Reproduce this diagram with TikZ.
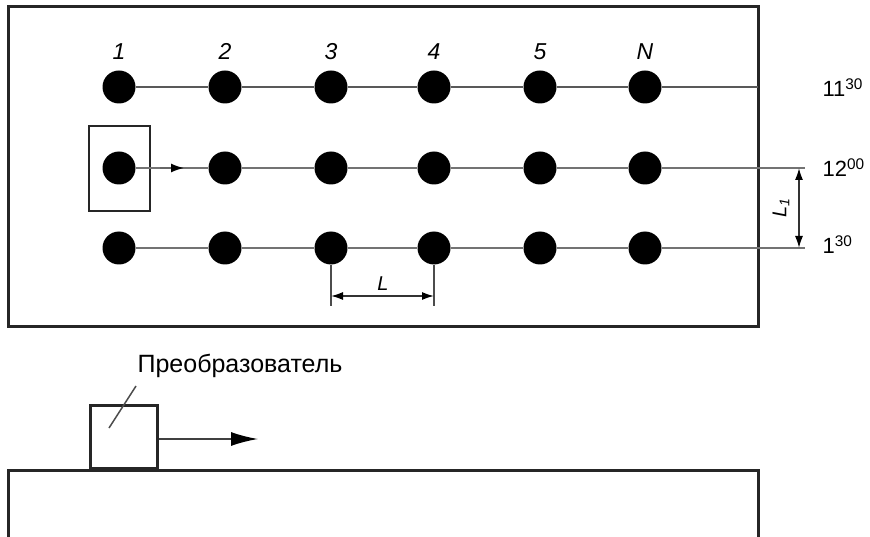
\documentclass[tikz,border=0pt]{standalone}
\usepackage{fontspec}
\setmainfont{Liberation Sans}
\usetikzlibrary{arrows.meta}
\begin{document}
\begin{tikzpicture}[x=1pt,y=-1pt,
  frame/.style={line width=3pt,draw=black!85},
  hole/.style={circle,fill=black,minimum size=33pt,inner sep=0pt},
  thickrow/.style={line width=2.6pt,draw=black!65},
  thinrow/.style={line width=1.6pt,draw=black!55},
  numlbl/.style={font=\fontsize{23}{23}\selectfont\itshape,anchor=base},
  timelbl/.style={font=\fontsize{22}{22}\selectfont,anchor=base west},
  dimline/.style={line width=1.6pt,draw=black!70},
  dimarrow/.style={line width=1.6pt,draw=black!80,{Latex[length=12pt,width=8pt,color=black]}-{Latex[length=12pt,width=8pt,color=black]}},
  dimlbl/.style={font=\fontsize{20}{20}\selectfont\itshape},
  probe/.style={line width=2.8pt,draw=black!85}]
\useasboundingbox (0,0) rectangle (870,537);
% top frame
\draw[frame] (8,7) rectangle (758,326);
% transducer box in plan
\draw[probe] (89,126) rectangle (150,211);
% holes
\foreach \i/\x in {1/119,2/225,3/331,4/434,5/540,6/645}{
  \node[hole] (a\i) at (\x,87) {};
  \node[hole] (m\i) at (\x,168) {};
  \node[hole] (b\i) at (\x,248) {};
}
\node[numlbl] (n1) at (119,60) {1};
\node[numlbl] (n2) at (225,60) {2};
\node[numlbl] (n3) at (331,60) {3};
\node[numlbl] (n4) at (434,60) {4};
\node[numlbl] (n5) at (540,60) {5};
\node[numlbl] (n6) at (645,60) {N};
% row lines
\coordinate (aend) at (758,87);
\coordinate (mend) at (805,168);
\coordinate (bend) at (805,248);
\draw[thickrow] (a1) -- (a2) -- (a3) -- (a4) -- (a5) -- (a6) -- (aend);
\draw[thinrow] (m1) -- (m2) -- (m3) -- (m4) -- (m5) -- (m6) -- (mend);
\draw[thinrow] (b1) -- (b2) -- (b3) -- (b4) -- (b5) -- (b6) -- (bend);
% small arrow on middle row
\coordinate (marrs) at (160,168);
\coordinate (marrt) at (184,168);
\draw[line width=1.6pt,draw=black!60,-{Latex[length=13pt,width=9pt,color=black]}] (marrs) -- (marrt);
% time labels
\node[timelbl] (t1) at (819,97) {11\textsuperscript{30}};
\node[timelbl] (t2) at (819,177) {12\textsuperscript{00}};
\node[timelbl] (t3) at (819,254) {1\textsuperscript{30}};
% L dimension
\coordinate (e3) at (331,306);
\coordinate (e4) at (434,306);
\coordinate (d3) at (331,296);
\coordinate (d4) at (434,296);
\draw[dimline] (b3.south) -- (e3);
\draw[dimline] (b4.south) -- (e4);
\draw[dimarrow] (d3) -- (d4);
\node[dimlbl] (Llbl) at (383,284) {L};
% L1 dimension
\coordinate (u1) at (799,168);
\coordinate (u2) at (799,248);
\draw[dimarrow] (u1) -- (u2);
\node[dimlbl,rotate=90] (L1lbl) at (781,208) {L\textsubscript{1}};
% side view
\draw[frame] (8,470) rectangle (758,538);
\node[probe,draw,minimum width=67pt,minimum height=63pt,inner sep=0pt,anchor=south west] (pr) at (89,470) {};
\node[font=\fontsize{25}{25}\selectfont] (ptxt) at (240,366) {Преобразователь};
\coordinate (lead1) at (109,428);
\coordinate (lead2) at (136,386);
\draw[line width=1.5pt,draw=black!70] (lead1) -- (lead2);
\coordinate (parr) at (258,439);
\draw[line width=1.6pt,draw=black!75,-{Latex[length=27pt,width=14pt,color=black]}] (pr.east |- parr) -- (parr);
\end{tikzpicture}
\end{document}
